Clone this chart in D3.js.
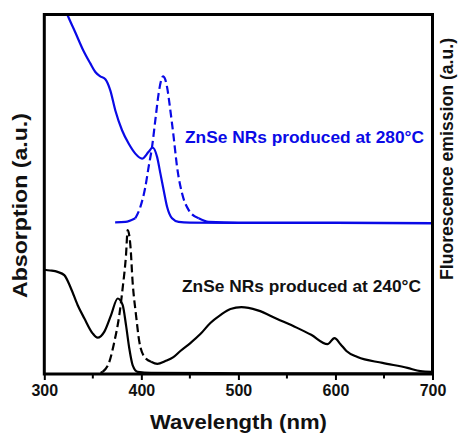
<!DOCTYPE html>
<html>
<head>
<meta charset="utf-8">
<script src="https://cdn.jsdelivr.net/npm/d3@7"></script>
<style>
  html, body { margin: 0; padding: 0; background: #fff; }
  svg text { font-family: "Liberation Sans", Arial, Helvetica, sans-serif; font-weight: bold; }
</style>
</head>
<body>
<svg id="chart" width="459" height="433"></svg>
<script>
// Wavelength axis ticks (nm)
const majorTicks = [300, 400, 500, 600, 700];
const minorTicks = [350, 450, 550, 650];

// ZnSe NRs grown at 280 °C: absorption (solid) and emission (dashed), offset upward
const absorption280 = [
  [318, 104], [323.7, 100], [332, 95], [340.2, 90], [347.4, 86.4], [352.6, 84],
  [357.7, 82.8], [362.9, 82.0], [368, 78.9], [373.2, 73.3], [380.1, 67.8],
  [386.9, 64.1], [393.8, 61.3], [400.7, 59.9], [407.5, 61.8], [411.6, 63],
  [416.2, 60.4], [419.6, 55.8], [423, 51.1], [426.5, 46.5], [431.6, 43.3],
  [438.4, 42.3], [450, 42.1], [500, 42.0], [600, 42.0], [700, 41.9]
];
const emission280 = [
  [373, 42.2], [383.5, 42.3], [393.8, 43.3], [399, 46.5], [404.1, 52],
  [407.5, 57.6], [411, 63.1], [414.4, 70.6], [417.8, 78], [420.5, 81.8],
  [422.4, 82.8], [424.5, 82], [426.5, 79.8], [429.9, 73.3], [433.3, 65.9],
  [436.8, 57.6], [442, 50.2], [448.8, 45.6], [459.1, 43.3], [469.4, 42.3],
  [500, 42.1], [600, 42.1], [700, 42.0]
];

// ZnSe NRs grown at 240 °C
const absorption240 = [
  [300, 29.0], [306, 28.8], [313.7, 28.4], [320.6, 27.5], [327.5, 23.8],
  [334.3, 19.2], [341.2, 15.5], [349.8, 11.3], [354.9, 10.1], [361.9, 11.8],
  [368.8, 16.4], [375.6, 21.0], [380.7, 19.2], [384.2, 13.6], [387.6, 7.1],
  [391, 2.5], [396.2, 0.6], [410, 0.3], [500, 0.2], [700, 0.1]
];
const emission240 = [
  [358, 0.3], [360.1, 0.6], [367, 3.4], [372.2, 9.0], [377.3, 16.4],
  [380.7, 23.8], [384.2, 33.1], [385.9, 40], [388.7, 35.8], [391, 25.6],
  [394.5, 16.4], [397.9, 9.0], [403.1, 4.8], [410, 3.4], [416.5, 2.8],
  [424.7, 3.6], [433, 4.7], [440.2, 6.4], [450.5, 8.6], [460.8, 11.1],
  [471.1, 14.2], [481.4, 16.4], [491.8, 18.1], [503.1, 18.6], [520, 17.7],
  [540, 15.3], [560, 12.9], [575, 10.9], [591.8, 8.3], [599, 10],
  [605.2, 8.3], [611.3, 6.4], [622.7, 4.7], [648.5, 3.1], [674.2, 1.7],
  [687.6, 0.8], [699, 0.6]
];

const labels = ["ZnSe NRs produced at 280°C", "ZnSe NRs produced at 240°C"];
const xTitle = "Wavelength (nm)";
const yTitleLeft = "Absorption (a.u.)";
const yTitleRight = "Fluorescence emission (a.u.)";

const BLUE = "#0a0ae6";
const svg = d3.select("#chart");
const plot = { left: 44.3, right: 432.5, top: 14.5, bottom: 374 };

const x = d3.scaleLinear().domain([300, 700]).range([plot.left, plot.right]);
const y = d3.scaleLinear().domain([0, 100]).range([plot.bottom, plot.top]);

svg.append("defs").append("clipPath").attr("id", "plotClip")
  .append("rect")
  .attr("x", plot.left).attr("y", plot.top)
  .attr("width", plot.right - plot.left).attr("height", plot.bottom - plot.top);

const line = d3.line().x(d => x(d[0])).y(d => y(d[1])).curve(d3.curveMonotoneX);
const curves = svg.append("g").attr("clip-path", "url(#plotClip)");

// Draw a spectrum; the sharp band-edge peak is dashed, the rest drawn solid
function drawSpectrum(data, color, dashFrom, dashTo) {
  if (dashFrom === undefined) {
    curves.append("path").datum(data).attr("d", line)
      .attr("fill", "none").attr("stroke", color).attr("stroke-width", 2.2)
      .attr("stroke-linejoin", "round");
    return;
  }
  const before = data.filter(d => d[0] <= dashFrom);
  const mid = data.filter(d => d[0] >= dashFrom && d[0] <= dashTo);
  const after = data.filter(d => d[0] >= dashTo);
  [before, after].forEach(seg => {
    if (seg.length > 1) {
      curves.append("path").datum(seg).attr("d", line)
        .attr("fill", "none").attr("stroke", color).attr("stroke-width", 2.2);
    }
  });
  curves.append("path").datum(mid).attr("d", line)
    .attr("fill", "none").attr("stroke", color).attr("stroke-width", 2.2)
    .attr("stroke-dasharray", "8,4");
}

drawSpectrum(absorption280, BLUE);
drawSpectrum(emission280, BLUE, 393.8, 459.1);
drawSpectrum(absorption240, "#000");
drawSpectrum(emission240, "#000", 360.1, 410);

// Bottom axis with outward ticks
const xAxis = d3.axisBottom(x).tickValues(majorTicks).tickSize(6).tickPadding(5)
  .tickFormat(d3.format("d"));
const gx = svg.append("g").attr("transform", `translate(0,${plot.bottom})`).call(xAxis);
gx.select(".domain").remove();
gx.selectAll(".tick line").attr("stroke", "#000").attr("stroke-width", 2);
gx.selectAll(".tick text").attr("font-size", 16).attr("fill", "#111");
svg.append("g").selectAll("line").data(minorTicks).join("line")
  .attr("x1", d => x(d)).attr("x2", d => x(d))
  .attr("y1", plot.bottom).attr("y2", plot.bottom + 4.5)
  .attr("stroke", "#000").attr("stroke-width", 2);

// Frame
svg.append("rect")
  .attr("x", plot.left).attr("y", plot.top)
  .attr("width", plot.right - plot.left).attr("height", plot.bottom - plot.top)
  .attr("fill", "none").attr("stroke", "#000").attr("stroke-width", 3);

// In-plot labels
svg.append("text").attr("x", 185).attr("y", 142.5).attr("fill", BLUE)
  .attr("font-size", 16.5).attr("textLength", 239).attr("lengthAdjust", "spacingAndGlyphs")
  .text(labels[0]);
svg.append("text").attr("x", 182).attr("y", 292).attr("fill", "#111")
  .attr("font-size", 16.5).attr("textLength", 239).attr("lengthAdjust", "spacingAndGlyphs")
  .text(labels[1]);

// Axis titles
svg.append("text").attr("x", (plot.left + plot.right) / 2).attr("y", 429)
  .attr("text-anchor", "middle").attr("font-size", 20).attr("fill", "#111")
  .attr("textLength", 177).attr("lengthAdjust", "spacingAndGlyphs")
  .text(xTitle);
svg.append("text").attr("transform", "translate(27,205.5) rotate(-90)")
  .attr("text-anchor", "middle").attr("font-size", 20).attr("fill", "#111")
  .attr("textLength", 185).attr("lengthAdjust", "spacingAndGlyphs")
  .text(yTitleLeft);
svg.append("text").attr("transform", "translate(453,159) rotate(-90)")
  .attr("text-anchor", "middle").attr("font-size", 17.5).attr("fill", "#111")
  .attr("textLength", 242).attr("lengthAdjust", "spacingAndGlyphs")
  .text(yTitleRight);
</script>
</body>
</html>
